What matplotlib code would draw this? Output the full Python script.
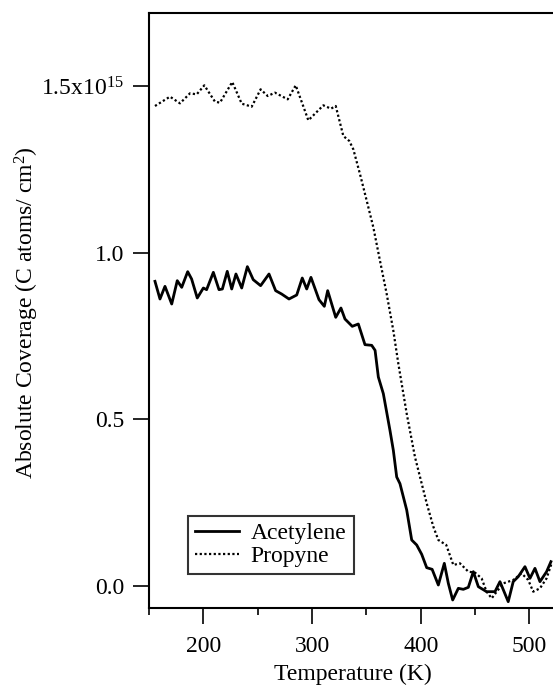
import matplotlib
matplotlib.use("Agg")
import matplotlib.pyplot as plt
from matplotlib.ticker import MultipleLocator, FixedLocator, FixedFormatter

plt.rcParams['font.family'] = ['Liberation Serif', 'DejaVu Serif']
plt.rcParams['mathtext.fontset'] = 'custom'
plt.rcParams['mathtext.rm'] = 'Liberation Serif'
plt.rcParams['mathtext.it'] = 'Liberation Serif:italic'

# Acetylene: temperature (K), coverage (x1e15 C atoms/cm^2)
acet_T = [155.5, 160.1, 164.7, 170.9, 176.0, 180.1, 185.6, 189.2, 194.4, 200.0,
          203.0, 209.2, 214.4, 217.5, 222.0, 226.1, 230.0, 235.3, 240.5, 245.9,
          252.7, 260.4, 266.5, 272.0, 278.8, 285.9, 291.0, 295.1, 299.0, 306.4,
          311.3, 314.4, 321.8, 326.6, 330.3, 337.0, 342.6, 348.7, 354.9, 358.0,
          361.0, 365.6, 371.7, 374.8, 377.9, 380.9, 387.1, 391.7, 396.3, 400.9,
          405.5, 410.5, 416.2, 421.7, 425.4, 429.4, 434.6, 439.2, 443.8, 448.4,
          453.0, 460.6, 468.3, 472.9, 480.5, 485.1, 489.7, 495.9, 500.5, 505.1,
          509.7, 515.8, 519.8]
acet_cov = [0.914, 0.861, 0.899, 0.846, 0.916, 0.896, 0.943, 0.921, 0.864, 0.894,
            0.889, 0.941, 0.889, 0.891, 0.944, 0.891, 0.936, 0.894, 0.958, 0.919,
            0.901, 0.936, 0.886, 0.876, 0.861, 0.873, 0.924, 0.891, 0.926, 0.859,
            0.839, 0.886, 0.806, 0.834, 0.801, 0.779, 0.786, 0.724, 0.722, 0.707,
            0.627, 0.577, 0.467, 0.407, 0.327, 0.307, 0.228, 0.138, 0.123, 0.095,
            0.055, 0.050, 0.003, 0.068, 0.008, -0.042, -0.007, -0.010, -0.004, 0.043,
            -0.002, -0.017, -0.017, 0.013, -0.047, 0.013, 0.028, 0.058, 0.023, 0.053,
            0.013, 0.043, 0.073]

# Propyne
prop_T = [155.5, 169.3, 178.5, 187.7, 193.9, 200.9, 210.7, 215.3, 226.6, 235.3,
          244.5, 252.7, 259.2, 265.9, 277.6, 285.0, 296.6, 310.4, 317.4, 321.8,
          328.8, 334.3, 338.0, 344.1, 350.3, 356.4, 362.5, 368.7, 374.8, 379.4,
          387.1, 394.7, 405.5, 411.6, 416.2, 423.5, 430.0, 436.1, 443.8, 450.0,
          456.0, 460.6, 465.3, 469.9, 476.0, 485.1, 492.8, 498.9, 503.5, 509.7,
          515.8, 520.4]
prop_cov = [1.440, 1.468, 1.448, 1.478, 1.475, 1.502, 1.453, 1.450, 1.512, 1.447,
            1.438, 1.490, 1.470, 1.480, 1.460, 1.502, 1.397, 1.442, 1.432, 1.440,
            1.350, 1.335, 1.310, 1.236, 1.156, 1.076, 0.976, 0.876, 0.766, 0.667,
            0.517, 0.387, 0.248, 0.178, 0.138, 0.123, 0.063, 0.068, 0.043, 0.040,
            0.023, -0.017, -0.037, -0.017, 0.008, 0.018, 0.038, 0.018, -0.017, -0.007,
            0.023, 0.068]

x_ticks = [200, 300, 400, 500]
y_ticks = [0.0, 0.5, 1.0, 1.5]
y_tick_labels = ['0.0', '0.5', '1.0', '1.5x10$^{15}$']

fig = plt.figure(figsize=(5.53, 6.86), dpi=100)
ax = fig.add_axes([149/553, 1 - 608/686, 404/553, 595/686])

ax.plot(acet_T, acet_cov, color='black', lw=2.0, ls='-', label='Acetylene',
        solid_joinstyle='round')
ax.plot(prop_T, prop_cov, color='black', lw=1.6, ls=(0, (1, 1.1)), label='Propyne')

ax.set_xlim(150, 521.7)
ax.set_ylim(-0.066, 1.719)

ax.xaxis.set_major_locator(FixedLocator(x_ticks))
ax.xaxis.set_minor_locator(MultipleLocator(50))
ax.yaxis.set_major_locator(FixedLocator(y_ticks))
ax.yaxis.set_major_formatter(FixedFormatter(y_tick_labels))
ax.yaxis.set_minor_locator(FixedLocator([]))

for s in ['left', 'bottom', 'top']:
    ax.spines[s].set_linewidth(1.5)
ax.spines['right'].set_visible(False)

ax.tick_params(axis='both', which='major', direction='out', length=11.5, width=1.2,
               labelsize=17)
ax.tick_params(axis='x', which='major', pad=8.5)
ax.tick_params(axis='y', which='major', pad=6.5)
ax.tick_params(axis='x', which='minor', direction='out', length=5, width=1.2)

ax.set_xlabel('Temperature (K)', fontsize=17)
ax.set_ylabel('Absolute Coverage (C atoms/ cm$^2$)', fontsize=17)
ax.xaxis.set_label_coords(0.505, -0.094)
ax.yaxis.set_label_coords(-0.267, 0.496)

leg = ax.legend(loc='lower left', bbox_to_anchor=(0.097, 0.057), borderaxespad=0,
                fontsize=17, frameon=True, fancybox=False, handlelength=1.85,
                handletextpad=0.5, labelspacing=0.05, borderpad=0.3)
leg.get_frame().set_edgecolor('black')
leg.get_frame().set_linewidth(1.5)

fig.savefig('out.png', dpi=100)
